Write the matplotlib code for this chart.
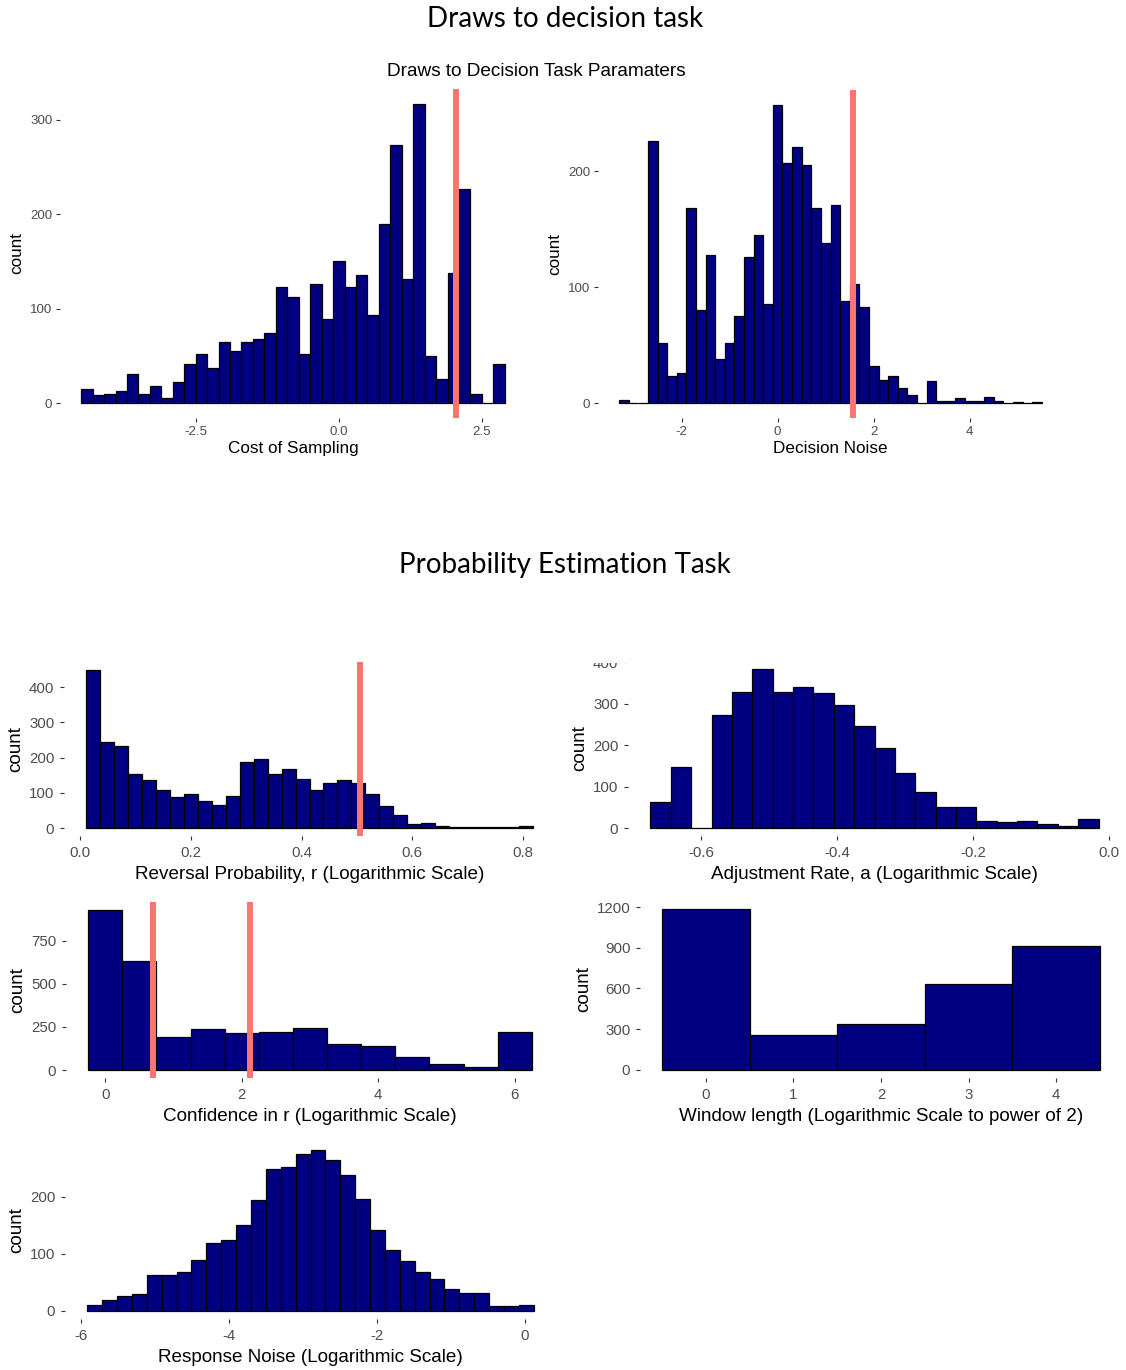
import numpy as np
import matplotlib
matplotlib.use('Agg')
import matplotlib.pyplot as plt
from matplotlib.patches import Rectangle

plt.rcParams['font.family'] = ['Liberation Sans', 'DejaVu Sans']
plt.rcParams['axes.unicode_minus'] = False

W, H = 1126, 1370
NAVY = '#000080'; RED = '#F8766D'; TICKCOL = '#4D4D4D'

# bin counts, with first bin edge and bin width
cost_counts = [15, 9, 10, 13, 31, 10, 18, 5, 22, 41, 52, 37, 65, 55, 65, 68, 74, 123, 112, 52,
               126, 89, 151, 123, 136, 93, 190, 273, 131, 317, 50, 26, 138, 227, 10, 0, 41]
cost_start, cost_bw, cost_line = -4.5, 0.2, [2.05]

noise_counts = [3, 0, 0, 226, 52, 23, 26, 168, 80, 128, 38, 52, 75, 126, 145, 85, 257, 207, 221, 205,
                168, 138, 171, 88, 103, 83, 32, 20, 23, 13, 7, 0, 19, 2, 2, 4, 2, 2, 5, 2, 0, 1, 0, 1]
noise_start, noise_bw, noise_line = -3.3, 0.2, [1.56]

rev_counts = [449, 244, 234, 154, 136, 108, 87, 97, 76, 65, 90, 187, 197, 154, 168, 140, 108, 129,
              137, 129, 97, 64, 36, 11, 14, 7, 3, 3, 3, 3, 3, 7]
rev_start, rev_bw, rev_line = 0.011, 0.0252, [0.505]

adj_counts = [62, 148, 0, 273, 328, 384, 328, 341, 325, 298, 246, 194, 132, 86, 52, 52, 18, 15, 18, 10, 6, 21]
adj_start, adj_bw, adj_line = -0.675, 0.03, []

conf_counts = [928, 632, 192, 238, 215, 223, 244, 151, 141, 76, 37, 16, 221]
conf_start, conf_bw, conf_line = -0.25, 0.5, [0.70, 2.12]

win_counts = [1185, 255, 341, 636, 910]
win_start, win_bw, win_line = -0.5, 1.0, []

resp_counts = [11, 19, 27, 29, 63, 63, 68, 90, 119, 124, 151, 194, 248, 252, 275, 282, 264, 239,
               196, 142, 106, 88, 69, 56, 38, 31, 31, 9, 8, 11]
resp_start, resp_bw, resp_line = -5.92, 0.2013, []

fig = plt.figure(figsize=(W/100, H/100), dpi=100)

def pix_axes(l, t, r, b):
    return fig.add_axes([l/W, 1-b/H, (r-l)/W, (b-t)/H])

def hist_panel(box, counts, start, bw, lines, xticks, xlabels, yticks, xlabel, small):
    ax = pix_axes(*box)
    n = len(counts)
    edges = start + bw*np.arange(n)
    ax.bar(edges, counts, width=bw, align='edge', color=NAVY, edgecolor='black', linewidth=0.9, zorder=2)
    for v in lines:
        ax.axvline(v, color=RED, linewidth=4.3, zorder=3)
    lo, hi = start, start + bw*n
    span = hi - lo
    ax.set_xlim(lo - 0.05*span, hi + 0.05*span)
    ax.set_ylim(-0.05*max(counts), 1.05*max(counts))
    for s in ax.spines.values():
        s.set_visible(False)
    ax.set_xticks(xticks); ax.set_xticklabels(xlabels)
    ax.set_yticks(yticks)
    if small:
        tsz, lsz, pad, lp, yp = 9.6, 12.3, 2.5, 2.5, 4
    else:
        tsz, lsz, pad, lp, yp = 10.8, 13.6, 4, 4.5, 3
    ax.tick_params(length=3, width=0.8, color='#333333', labelcolor=TICKCOL, labelsize=tsz, pad=pad)
    ax.set_xlabel(xlabel, fontsize=lsz, labelpad=lp)
    ax.set_ylabel('count', fontsize=lsz, labelpad=yp)
    return ax

hist_panel((60, 89, 526, 418), cost_counts, cost_start, cost_bw, cost_line,
           [-2.5, 0, 2.5], ['-2.5', '0.0', '2.5'], [0, 100, 200, 300], 'Cost of Sampling', True)
hist_panel((598, 90, 1063, 418), noise_counts, noise_start, noise_bw, noise_line,
           [-2, 0, 2, 4], ['-2', '0', '2', '4'], [0, 100, 200], 'Decision Noise', True)
hist_panel((64, 662, 555, 836), rev_counts, rev_start, rev_bw, rev_line,
           [0, 0.2, 0.4, 0.6, 0.8], ['0.0', '0.2', '0.4', '0.6', '0.8'], [0, 100, 200, 300, 400],
           'Reversal Probability, r (Logarithmic Scale)', False)
hist_panel((628, 661, 1121, 836), adj_counts, adj_start, adj_bw, adj_line,
           [-0.6, -0.4, -0.2, 0.0], ['-0.6', '-0.4', '-0.2', '0.0'], [0, 100, 200, 300, 400],
           'Adjustment Rate, a (Logarithmic Scale)', False)
hist_panel((66, 902, 554, 1078), conf_counts, conf_start, conf_bw, conf_line,
           [0, 2, 4, 6], ['0', '2', '4', '6'], [0, 250, 500, 750],
           'Confidence in r (Logarithmic Scale)', False)
hist_panel((640, 901, 1122, 1078), win_counts, win_start, win_bw, win_line,
           [0, 1, 2, 3, 4], ['0', '1', '2', '3', '4'], [0, 300, 600, 900, 1200],
           'Window length (Logarithmic Scale to power of 2)', False)
hist_panel((65, 1142, 556, 1319), resp_counts, resp_start, resp_bw, resp_line,
           [-6, -4, -2, 0], ['-6', '-4', '-2', '0'], [0, 100, 200],
           'Response Noise (Logarithmic Scale)', False)

# the source image was cropped just above the adjustment-rate panel
fig.patches.append(Rectangle((570/W, 1-663/H), 500/W, 60/H, transform=fig.transFigure,
                             facecolor='white', edgecolor='none', zorder=10))

fig.text(565/W, 1-19/H, 'Draws to decision task', ha='center', va='center', fontsize=20, family=['Lato', 'DejaVu Sans'])
fig.text(536/W, 1-71/H, 'Draws to Decision Task Paramaters', ha='center', va='center', fontsize=13.7)
fig.text(565/W, 1-565/H, 'Probability Estimation Task', ha='center', va='center', fontsize=20, family=['Lato', 'DejaVu Sans'])

fig.savefig('out.png', dpi=100)
